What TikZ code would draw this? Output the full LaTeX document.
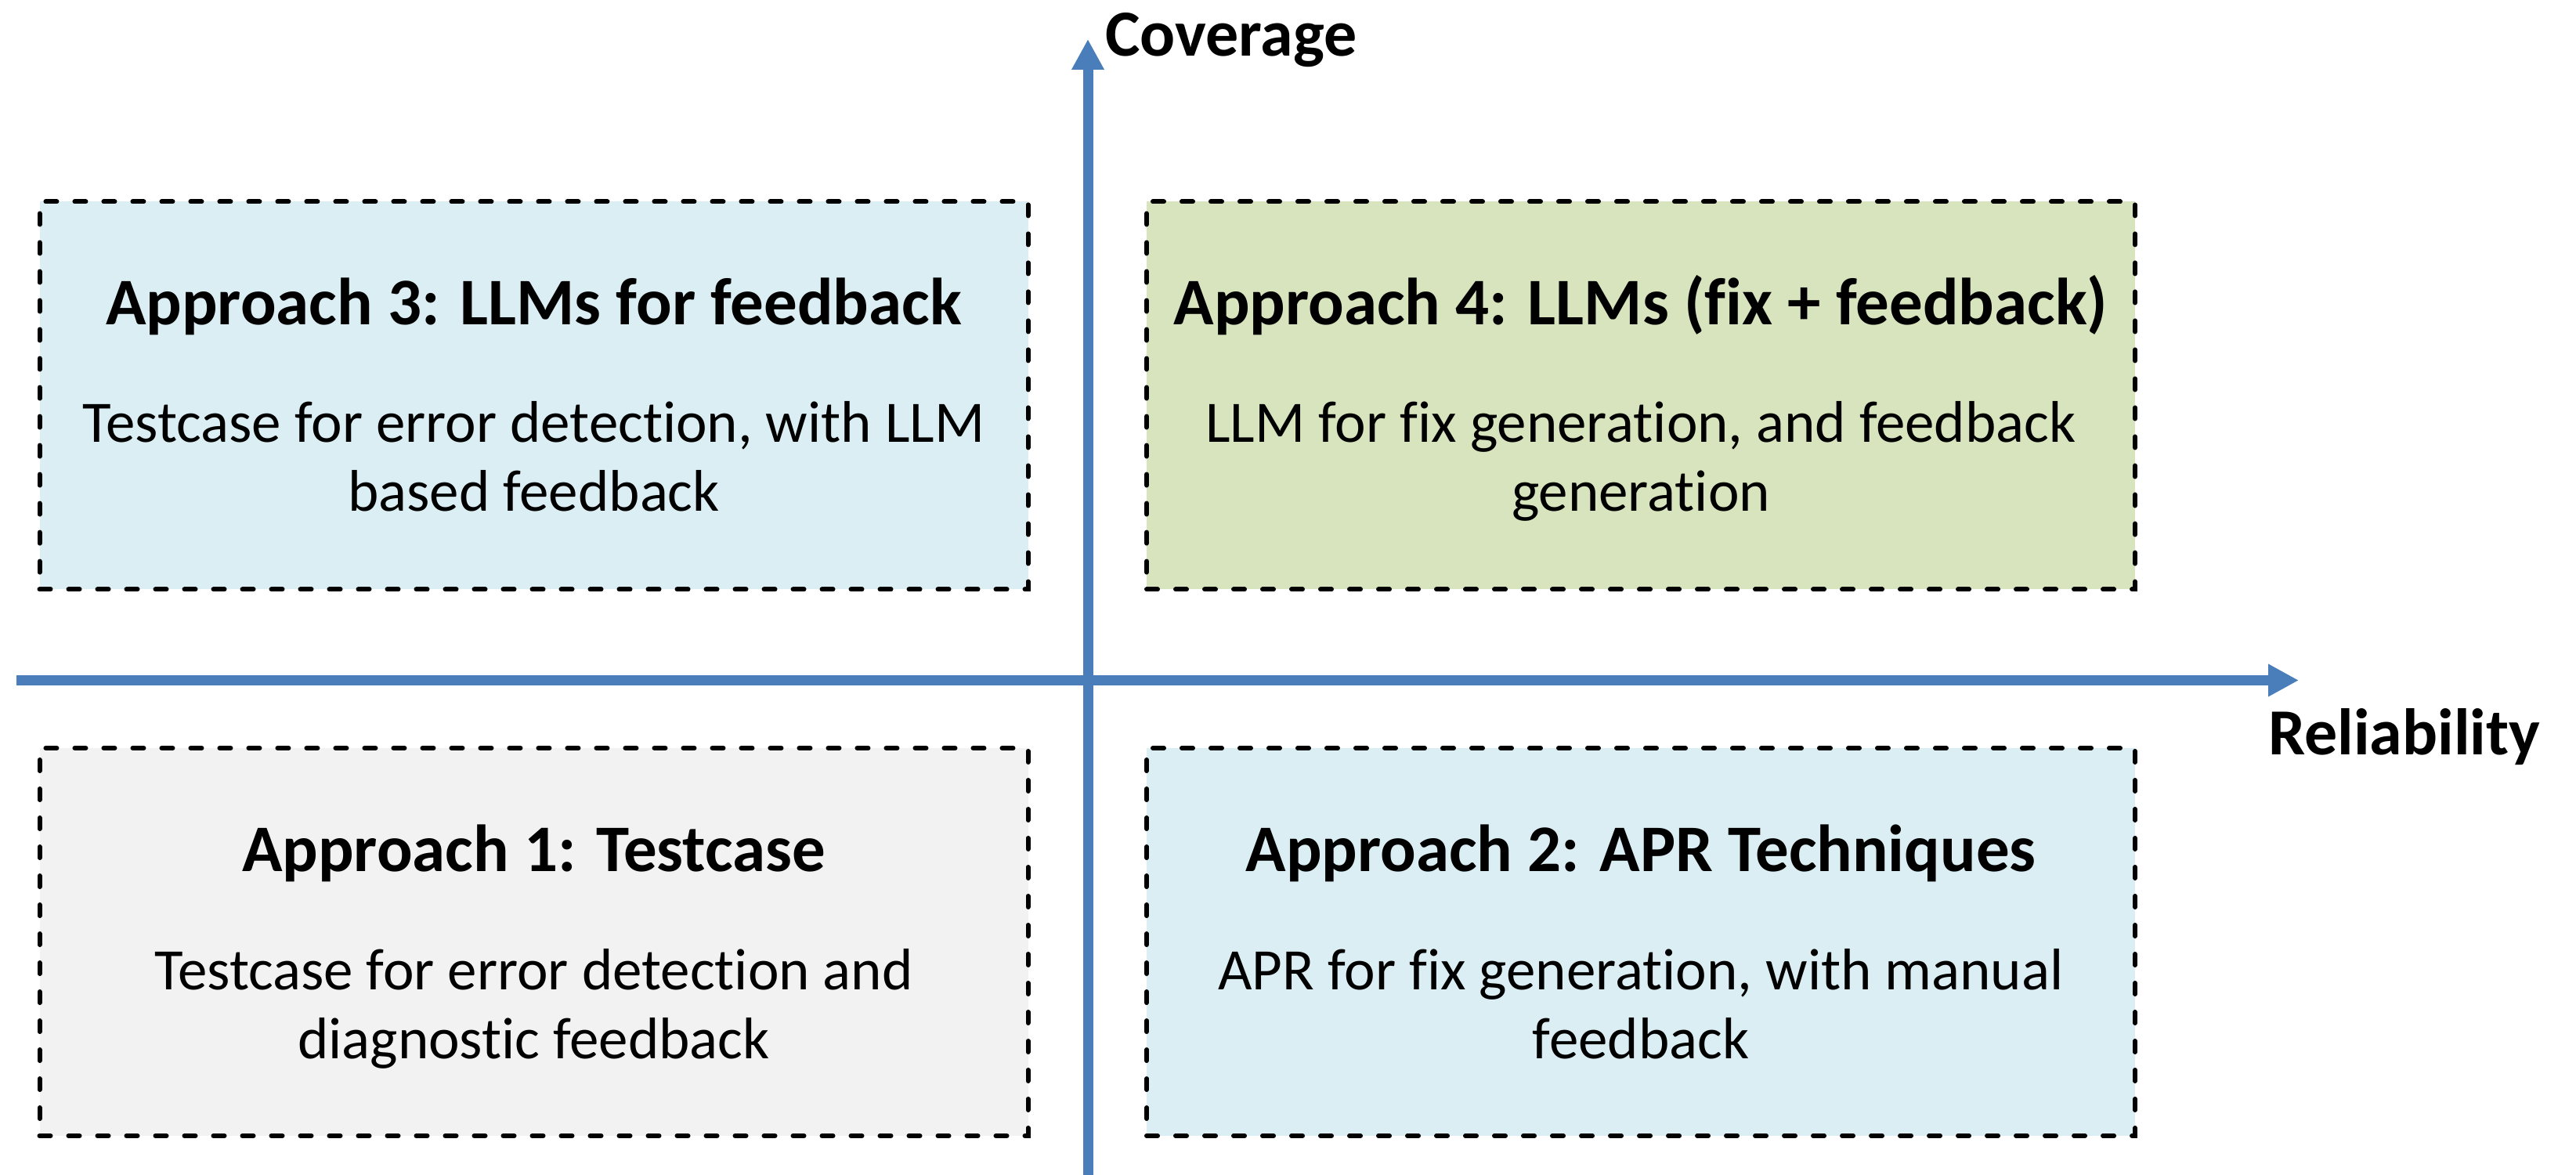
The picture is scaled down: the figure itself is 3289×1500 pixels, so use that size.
\documentclass[tikz,border=0pt]{standalone}
\usepackage{fontspec}
\setmainfont[Ligatures=NoCommon]{Carlito}
\usetikzlibrary{arrows.meta}

\definecolor{axisblue}{HTML}{4A7EBB}
\definecolor{fillblue}{HTML}{DBEEF4}
\definecolor{fillgreen}{HTML}{D7E4BD}
\definecolor{fillgray}{HTML}{F2F2F2}

\tikzset{
  quadbox/.style={rectangle, draw=black, line width=1.2pt, line cap=round,
    dash pattern=on 2.8pt off 4.6pt, minimum width=1262*0.2pt,
    minimum height=495*0.2pt, inner sep=0pt},
  boxtitle/.style={anchor=base, inner sep=0pt, font=\fontsize{17}{20}\selectfont\bfseries},
  boxbody/.style={anchor=base, inner sep=0pt, align=center,
    font=\fontsize{15}{17.6}\selectfont},
  axislabel/.style={anchor=base west, inner sep=0pt,
    font=\fontsize{16.8}{20}\selectfont\bfseries},
  axisline/.style={draw=axisblue, line width=2.6pt,
    -{Triangle[length=7.8pt,width=7.8pt]}},
}

\begin{document}
\begin{tikzpicture}[x={(0.2pt,0)}, y={(0,-0.2pt)}]
  \useasboundingbox (0,0) rectangle (3289,1500);

  % quadrant boxes
  \node[quadbox, fill=fillblue]  (q3) at (681.5,505)  {};
  \node[quadbox, fill=fillgreen] (q4) at (2095,505)   {};
  \node[quadbox, fill=fillgray]  (q1) at (681.5,1202.5) {};
  \node[quadbox, fill=fillblue]  (q2) at (2095,1202.5)  {};

  % box texts (body anchors sit on the baseline of the second line)
  \node[boxtitle] (t3) at (681.5,415) {Approach 3: LLMs for feedback};
  \node[boxbody]  (b3) at (681.5,653) {Testcase for error detection, with LLM\\based feedback};

  \node[boxtitle] (t4) at (2095,415) {Approach 4: LLMs (fix + feedback)};
  \node[boxbody]  (b4) at (2095,653) {LLM for fix generation, and feedback\\generation};

  \node[boxtitle] (t1) at (681.5,1113) {Approach 1: Testcase};
  \node[boxbody]  (b1) at (681.5,1352) {Testcase for error detection and\\diagnostic feedback};

  \node[boxtitle] (t2) at (2095,1113) {Approach 2: APR Techniques};
  \node[boxbody]  (b2) at (2095,1352) {APR for fix generation, with manual\\feedback};

  % axes
  \coordinate (ybot) at (1389,1500);
  \coordinate (ytop) at (1389,50);
  \coordinate (xleft) at (21,868.5);
  \coordinate (xright) at (2935,868.5);
  \draw[axisline] (ybot) -- (ytop);
  \draw[axisline] (xleft) -- (xright);

  \node[axislabel] (cov) at (1410,72) {Coverage};
  \node[axislabel] (rel) at (2895,964) {Reliability};
\end{tikzpicture}
\end{document}
